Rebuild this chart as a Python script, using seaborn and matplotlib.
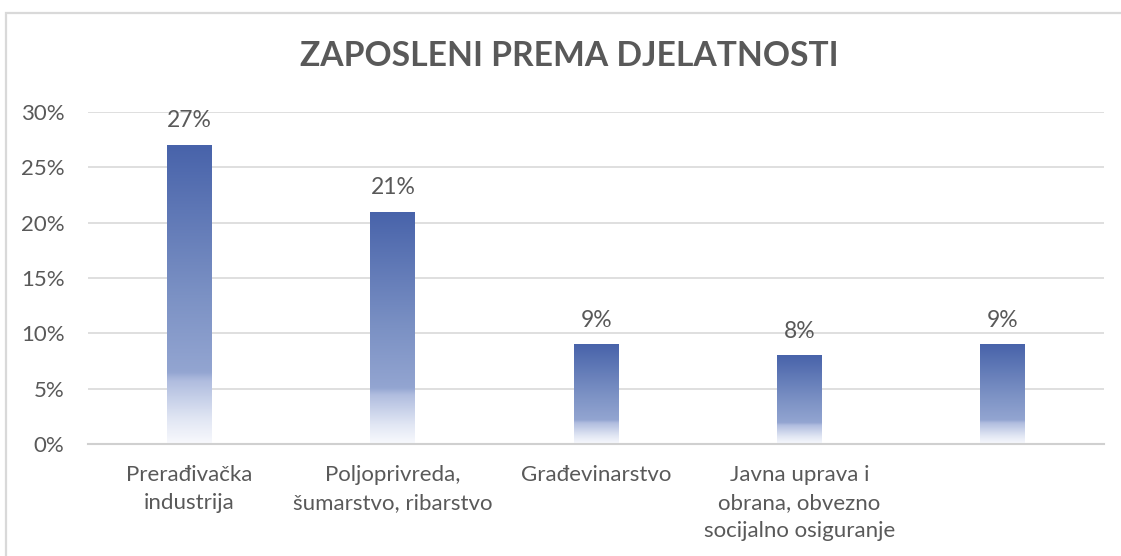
import numpy as np
import pandas as pd
import matplotlib
matplotlib.use("Agg")
import matplotlib.pyplot as plt
import matplotlib.patches as mpatches
from matplotlib.colors import LinearSegmentedColormap
import seaborn as sns

# data
categories = [
    "Prerađivačka\nindustrija",
    "Poljoprivreda,\nšumarstvo, ribarstvo",
    "Građevinarstvo",
    "Javna uprava i\nobrana, obvezno\nsocijalno osiguranje",
    "",
]
shares = [0.27, 0.21, 0.09, 0.08, 0.09]
title = "ZAPOSLENI PREMA DJELATNOSTI"

df = pd.DataFrame({"djelatnost": range(len(categories)), "udio": shares})

sns.set_theme(style="white")
plt.rcParams["font.family"] = ["Lato", "DejaVu Sans"]
text_color = "#595959"

fig = plt.figure(figsize=(11.21, 5.56), dpi=100)
ax = fig.add_axes([0.0785, 0.2014, 0.9065, 0.5972])

sns.barplot(data=df, x="djelatnost", y="udio", width=0.22, color="#4a64aa",
            ax=ax, saturation=1)

# vertical gradient inside each bar (dark blue top -> white bottom)
grad = LinearSegmentedColormap.from_list("bar_grad", [
    (0.00, "#f8f9fd"),
    (0.08, "#e2e7f4"),
    (0.21, "#b0bddf"),
    (0.24, "#93a5d1"),
    (0.50, "#7b91c4"),
    (1.00, "#4863aa"),
])
ramp = np.linspace(0, 1, 256).reshape(-1, 1)
for patch in ax.patches:
    x0, y0 = patch.get_x(), patch.get_y()
    w, h = patch.get_width(), patch.get_height()
    im = ax.imshow(ramp, cmap=grad, origin="lower", aspect="auto",
                   extent=[x0, x0 + w, y0, y0 + h], zorder=2)
    im.set_clip_path(patch)
    patch.set_facecolor("none")
    patch.set_edgecolor("none")
    ax.text(x0 + w / 2, y0 + h + 0.0125, f"{h * 100:.0f}%", ha="center",
            va="bottom", fontsize=16.5, color=text_color)

ax.set_xlim(-0.5, len(categories) - 0.5)
ax.set_ylim(0, 0.30)
ax.set_yticks(np.arange(0, 0.31, 0.05))
ax.set_yticklabels([f"{int(round(t * 100))}%" for t in np.arange(0, 0.31, 0.05)])
ax.set_xticks(range(len(categories)))
ax.set_xticklabels(categories, linespacing=1.5)
ax.tick_params(axis="both", labelsize=16, colors=text_color, length=0)
ax.tick_params(axis="x", pad=15)
ax.tick_params(axis="y", pad=17)
ax.set_xlabel("")
ax.set_ylabel("")
ax.grid(axis="y", color="#d9d9d9", linewidth=1.2)
ax.set_axisbelow(True)
for side in ["top", "right", "left"]:
    ax.spines[side].set_visible(False)
ax.spines["bottom"].set_color("#d0d0d0")
ax.spines["bottom"].set_linewidth(1.5)

fig.text(0.5075, 0.9, title, ha="center", va="center", fontsize=24.2,
         fontweight="bold", color=text_color)

# chart frame
frame = mpatches.Rectangle((6 / 1121, -0.05), 1.2, 1 - 13 / 556 + 0.05,
                           transform=fig.transFigure, fill=False,
                           edgecolor="#d9d9d9", linewidth=1.6)
fig.patches.append(frame)

fig.savefig("out.png", dpi=100)
